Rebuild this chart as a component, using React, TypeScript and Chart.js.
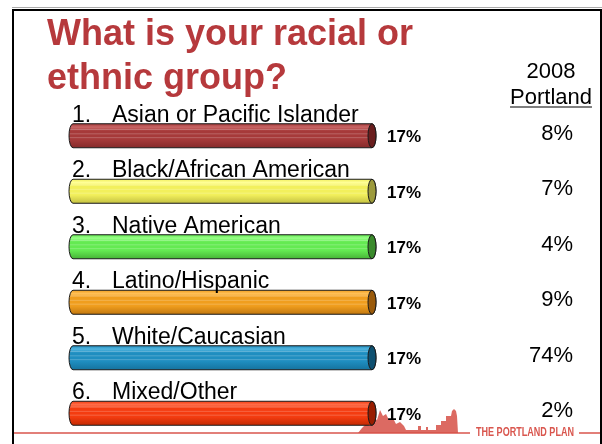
import { useEffect, useRef } from 'react';
import { Chart, registerables } from 'chart.js';

Chart.register(...registerables);

const titleLines = ['What is your racial or', 'ethnic group?'];
const categories = [
  'Asian or Pacific Islander',
  'Black/African American',
  'Native American',
  'Latino/Hispanic',
  'White/Caucasian',
  'Mixed/Other',
];
const responseValues = [17, 17, 17, 17, 17, 17];
const portlandValues = [8, 7, 4, 9, 74, 2];
const portlandHeader = ['2008', 'Portland'];
const footerText = 'THE PORTLAND PLAN';

const bodyColors = ['#a63a3a', '#f2f05c', '#64ea52', '#f09e1e', '#1f8ec0', '#f43c10'];
const lightColors = ['#c96666', '#ffff98', '#98ff88', '#ffc058', '#52b4de', '#ff6c48'];
const darkColors = ['#862a2a', '#c4c142', '#46b436', '#c27810', '#15739e', '#c42a02'];
const capColors = ['#6a1e1e', '#9c9a3c', '#3a8a2c', '#9a5a0a', '#0e5070', '#981c00'];

const FONT = '"Liberation Sans", Arial, Helvetica, sans-serif';

function bodyPath(ctx: CanvasRenderingContext2D, x: number, y: number, base: number, height: number, rx: number) {
  const top = y - height / 2;
  const bottom = y + height / 2;
  const ry = height / 2;
  ctx.beginPath();
  ctx.moveTo(base + rx, top);
  ctx.lineTo(x, top);
  ctx.ellipse(x, y, rx, ry, 0, -Math.PI / 2, Math.PI / 2);
  ctx.lineTo(base + rx, bottom);
  ctx.ellipse(base + rx, y, rx, ry, 0, Math.PI / 2, (3 * Math.PI) / 2);
  ctx.closePath();
}

const decorPlugin = {
  id: 'decor',
  beforeDraw(chart: any) {
    const ctx = chart.ctx as CanvasRenderingContext2D;
    ctx.save();
    ctx.fillStyle = '#ffffff';
    ctx.fillRect(0, 0, chart.width, chart.height);
    // frame
    ctx.strokeStyle = '#aaaaaa';
    ctx.lineWidth = 1;
    ctx.beginPath();
    ctx.moveTo(12, 7.5);
    ctx.lineTo(602, 7.5);
    ctx.stroke();
    ctx.strokeStyle = '#000000';
    ctx.lineWidth = 2;
    ctx.beginPath();
    ctx.moveTo(13, 444);
    ctx.lineTo(13, 10);
    ctx.lineTo(601, 10);
    ctx.lineTo(601, 444);
    ctx.stroke();

    // footer line + skyline
    ctx.strokeStyle = '#d9564e';
    ctx.lineWidth = 1.5;
    ctx.beginPath();
    ctx.moveTo(14, 433);
    ctx.lineTo(470, 433);
    ctx.moveTo(579, 433);
    ctx.lineTo(600, 433);
    ctx.stroke();

    ctx.fillStyle = 'rgba(214,80,70,0.85)';
    ctx.beginPath();
    ctx.moveTo(358, 433);
    ctx.lineTo(362, 428);
    ctx.lineTo(366, 424);
    ctx.lineTo(370, 426);
    ctx.lineTo(374, 418);
    ctx.lineTo(377, 420);
    ctx.lineTo(380, 410);
    ctx.lineTo(383, 416);
    ctx.lineTo(386, 414);
    ctx.lineTo(389, 420);
    ctx.lineTo(393, 418);
    ctx.lineTo(396, 424);
    ctx.lineTo(400, 422);
    ctx.lineTo(404, 426);
    ctx.lineTo(406, 430);
    ctx.lineTo(418, 430);
    ctx.lineTo(418, 426);
    ctx.lineTo(421, 426);
    ctx.lineTo(421, 430);
    ctx.lineTo(426, 430);
    ctx.lineTo(426, 427);
    ctx.lineTo(428, 427);
    ctx.lineTo(428, 430);
    ctx.lineTo(436, 430);
    ctx.lineTo(436, 425);
    ctx.lineTo(441, 425);
    ctx.lineTo(441, 421);
    ctx.lineTo(446, 421);
    ctx.lineTo(446, 416);
    ctx.lineTo(451, 416);
    ctx.lineTo(452, 411);
    ctx.lineTo(454, 409);
    ctx.lineTo(456, 411);
    ctx.lineTo(457, 416);
    ctx.lineTo(458, 433);
    ctx.closePath();
    ctx.fill();

    // footer text, condensed to fit
    ctx.fillStyle = '#d9564e';
    ctx.font = `bold 12px ${FONT}`;
    ctx.textAlign = 'left';
    ctx.textBaseline = 'alphabetic';
    const fw = ctx.measureText(footerText).width;
    ctx.save();
    ctx.translate(476, 436);
    ctx.scale(98 / fw, 1);
    ctx.fillText(footerText, 0, 0);
    ctx.restore();

    // title
    ctx.fillStyle = '#b6393c';
    ctx.font = `bold 36px ${FONT}`;
    ctx.fillText(titleLines[0], 47, 45);
    ctx.fillText(titleLines[1], 47, 89);

    // header
    ctx.fillStyle = '#000000';
    ctx.font = `22px ${FONT}`;
    ctx.textAlign = 'center';
    ctx.fillText(portlandHeader[0], 551, 78);
    ctx.fillText(portlandHeader[1], 551, 104);
    const w = ctx.measureText(portlandHeader[1]).width;
    ctx.lineWidth = 1.2;
    ctx.strokeStyle = '#000000';
    ctx.beginPath();
    ctx.moveTo(551 - w / 2, 107);
    ctx.lineTo(551 + w / 2, 107);
    ctx.stroke();
    ctx.restore();
  },
  afterDatasetsDraw(chart: any) {
    const ctx = chart.ctx as CanvasRenderingContext2D;
    const meta = chart.getDatasetMeta(0);
    meta.data.forEach((bar: any, i: number) => {
      const { x, y, base, height } = bar.getProps(['x', 'y', 'base', 'height'], true);
      const top = y - height / 2;
      const bottom = y + height / 2;
      const rx = 4;
      const ry = height / 2;
      ctx.save();
      // body
      bodyPath(ctx, x, y, base, height, rx);
      const g = ctx.createLinearGradient(0, top, 0, bottom);
      g.addColorStop(0, bodyColors[i]);
      g.addColorStop(0.14, lightColors[i]);
      g.addColorStop(0.3, bodyColors[i]);
      g.addColorStop(0.65, bodyColors[i]);
      g.addColorStop(1, darkColors[i]);
      ctx.fillStyle = g;
      ctx.fill();
      // subtle stripes
      ctx.save();
      ctx.clip();
      ctx.strokeStyle = 'rgba(255,255,255,0.22)';
      ctx.lineWidth = 1;
      [0.24, 0.42, 0.58].forEach((f) => {
        ctx.beginPath();
        ctx.moveTo(base, top + height * f);
        ctx.lineTo(x, top + height * f);
        ctx.stroke();
      });
      ctx.restore();
      bodyPath(ctx, x, y, base, height, rx);
      ctx.lineWidth = 1;
      ctx.strokeStyle = '#1a1a1a';
      ctx.stroke();
      // cap
      ctx.beginPath();
      ctx.ellipse(x, y, rx, ry, 0, 0, Math.PI * 2);
      ctx.fillStyle = capColors[i];
      ctx.fill();
      ctx.stroke();

      // category label above bar
      ctx.fillStyle = '#000000';
      ctx.font = `23px ${FONT}`;
      ctx.textAlign = 'left';
      ctx.textBaseline = 'alphabetic';
      ctx.fillText(`${i + 1}.`, 72, top - 2);
      ctx.fillText(categories[i], 112, top - 2);

      // value label
      ctx.font = `bold 17px ${FONT}`;
      ctx.textBaseline = 'middle';
      ctx.fillText(`${responseValues[i]}%`, x + 15, y + 2);

      // Portland column
      ctx.font = `22px ${FONT}`;
      ctx.textAlign = 'right';
      ctx.fillText(`${portlandValues[i]}%`, 573, y - 2);
      ctx.restore();
    });
  },
};

export default function App() {
  const ref = useRef<HTMLCanvasElement | null>(null);
  useEffect(() => {
    if (!ref.current) return;
    const chart = new Chart(ref.current, {
      type: 'bar',
      data: {
        labels: categories,
        datasets: [
          {
            data: responseValues,
            backgroundColor: 'rgba(0,0,0,0)',
            borderWidth: 0,
            barThickness: 24,
          },
        ],
      },
      options: {
        indexAxis: 'y',
        responsive: false,
        animation: false,
        devicePixelRatio: 1,
        layout: { padding: { left: 69, right: 230, top: 108, bottom: 3 } },
        scales: {
          x: { display: false, min: 0, max: 17 },
          y: { display: false },
        },
        plugins: {
          legend: { display: false },
          title: { display: false },
          tooltip: { enabled: false },
        },
      },
      plugins: [decorPlugin],
    });
    return () => chart.destroy();
  }, []);
  return (
    <div style={{ position: 'fixed', left: 0, top: 0, width: 602, height: 444 }}>
      <canvas ref={ref} width={602} height={444} style={{ display: 'block' }} />
    </div>
  );
}
